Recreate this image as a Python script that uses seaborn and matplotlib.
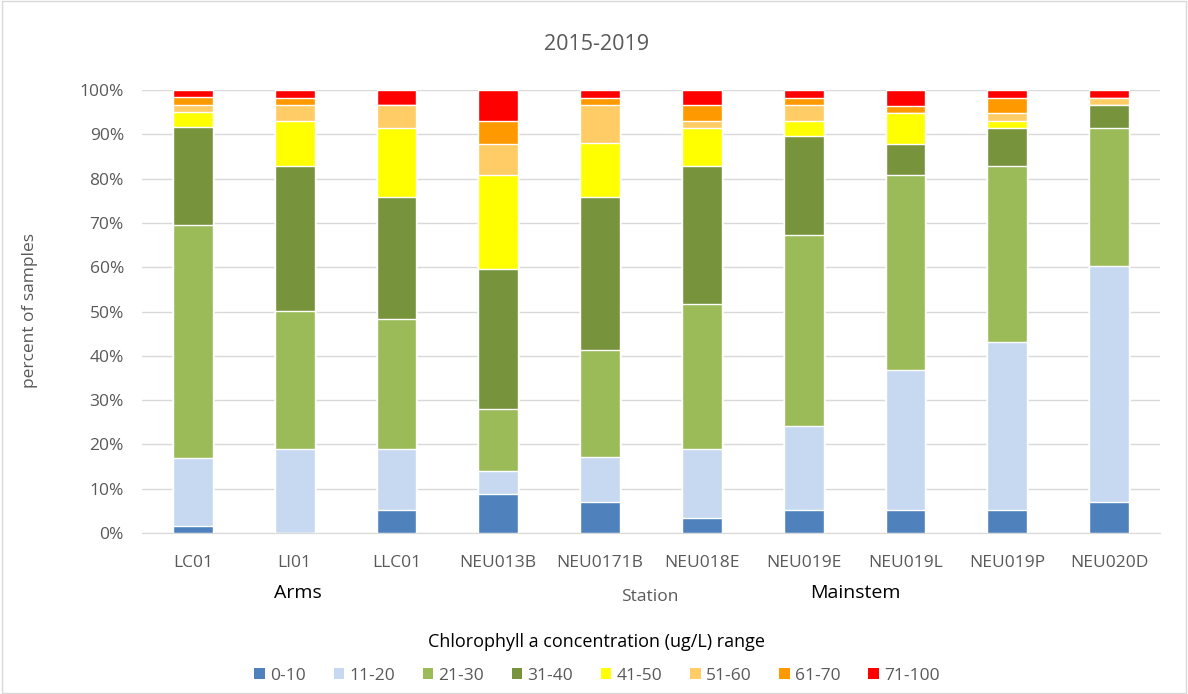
import numpy as np
import pandas as pd
import matplotlib
matplotlib.use('Agg')
import matplotlib.pyplot as plt
from matplotlib.patches import Patch, Rectangle
import seaborn as sns

# stations and chlorophyll ranges
stations = ['LC01', 'LI01', 'LLC01', 'NEU013B', 'NEU0171B', 'NEU018E',
            'NEU019E', 'NEU019L', 'NEU019P', 'NEU020D']
ranges = ['0-10', '11-20', '21-30', '31-40', '41-50', '51-60', '61-70', '71-100']
colors = ['#4F81BD', '#C6D9F0', '#9BBB59', '#77933C', '#FFFF00', '#FFCC66',
          '#FF9900', '#FF0000']

# percent of samples per range
r_0_10 = [1.69, 0.00, 5.17, 8.77, 6.90, 3.45, 5.17, 5.26, 5.17, 6.90]
r_11_20 = [15.25, 18.97, 13.79, 5.26, 10.34, 15.52, 18.97, 31.58, 37.93, 53.45]
r_21_30 = [52.54, 31.03, 29.31, 14.04, 24.14, 32.76, 43.10, 43.86, 39.66, 31.03]
r_31_40 = [22.03, 32.76, 27.59, 31.58, 34.48, 31.03, 22.41, 7.02, 8.62, 5.17]
r_41_50 = [3.39, 10.34, 15.52, 21.05, 12.07, 8.62, 3.45, 7.02, 1.72, 0.00]
r_51_60 = [1.69, 3.45, 5.17, 7.02, 8.62, 1.72, 3.45, 0.00, 1.72, 1.72]
r_61_70 = [1.69, 1.72, 0.00, 5.26, 1.72, 3.45, 1.72, 1.75, 3.45, 0.00]
r_71_100 = [1.69, 1.72, 3.45, 7.02, 1.72, 3.45, 1.72, 3.51, 1.72, 1.72]

df = pd.DataFrame({'station': stations})
for name, vals in zip(ranges, [r_0_10, r_11_20, r_21_30, r_31_40,
                               r_41_50, r_51_60, r_61_70, r_71_100]):
    df[name] = vals
cum = df[ranges].cumsum(axis=1)
cum = cum.div(cum[ranges[-1]], axis=0) * 100
cum['station'] = stations

sns.set_style('white')
plt.rcParams['font.family'] = ['Open Sans', 'DejaVu Sans']

fig = plt.figure(figsize=(11.88, 6.94), dpi=100)
ax = fig.add_axes([142 / 1188, 1 - 533 / 694, (1160 - 142) / 1188, (533 - 90) / 694])

# stacked bars: draw cumulative totals from the top range down
for name, col in reversed(list(zip(ranges, colors))):
    sns.barplot(data=cum, x='station', y=name, color=col, saturation=1,
                width=0.39, errorbar=None, ax=ax, zorder=3)

grey = '#595959'
ax.set_ylim(0, 100)
ax.set_xlim(-0.5, len(stations) - 0.5)
ax.set_yticks(range(0, 101, 10))
ax.set_yticklabels([f'{v}%' for v in range(0, 101, 10)], color=grey, fontsize=12.5)
ax.set_xticks(range(len(stations)))
ax.set_xticklabels(stations, color=grey, fontsize=12.5)
ax.tick_params(axis='y', length=0, pad=13)
ax.tick_params(axis='x', length=0, pad=16)
ax.grid(axis='y', color='#D9D9D9', linewidth=1, zorder=0)
ax.set_axisbelow(True)
for s in ['top', 'right', 'left']:
    ax.spines[s].set_visible(False)
ax.spines['bottom'].set_color('#D9D9D9')
ax.set_xlabel('')
ax.set_ylabel('')

fig.text(597 / 1188, 1 - 45 / 694, '2015-2019', ha='center', va='center',
         fontsize=15.5, color=grey)
fig.text(30 / 1188, 1 - 311 / 694, 'percent of samples', rotation=90,
         ha='center', va='center', fontsize=12.5, color=grey)
fig.text(298 / 1188, 1 - 593 / 694, 'Arms', ha='center', va='center',
         fontsize=14, color='black')
fig.text(650 / 1188, 1 - 597 / 694, 'Station', ha='center', va='center',
         fontsize=12.5, color=grey)
fig.text(855 / 1188, 1 - 593 / 694, 'Mainstem', ha='center', va='center',
         fontsize=14, color='black')
fig.text(597 / 1188, 1 - 642 / 694, 'Chlorophyll a concentration (ug/L) range',
         ha='center', va='center', fontsize=13, color='black')

handles = [Patch(facecolor=c, edgecolor='none', label=r) for r, c in zip(ranges, colors)]
leg = fig.legend(handles=handles, loc='center', bbox_to_anchor=(597 / 1188, 1 - 676 / 694),
                 ncol=8, frameon=False, fontsize=12.5, handlelength=0.6,
                 handleheight=0.6, handletextpad=0.3, columnspacing=1.6)
for t in leg.get_texts():
    t.set_color(grey)

fig.patches.append(Rectangle((0.002, 0.002), 0.996, 0.996, transform=fig.transFigure,
                             fill=False, edgecolor='#D9D9D9', linewidth=1))

fig.savefig('out.png', dpi=100)
